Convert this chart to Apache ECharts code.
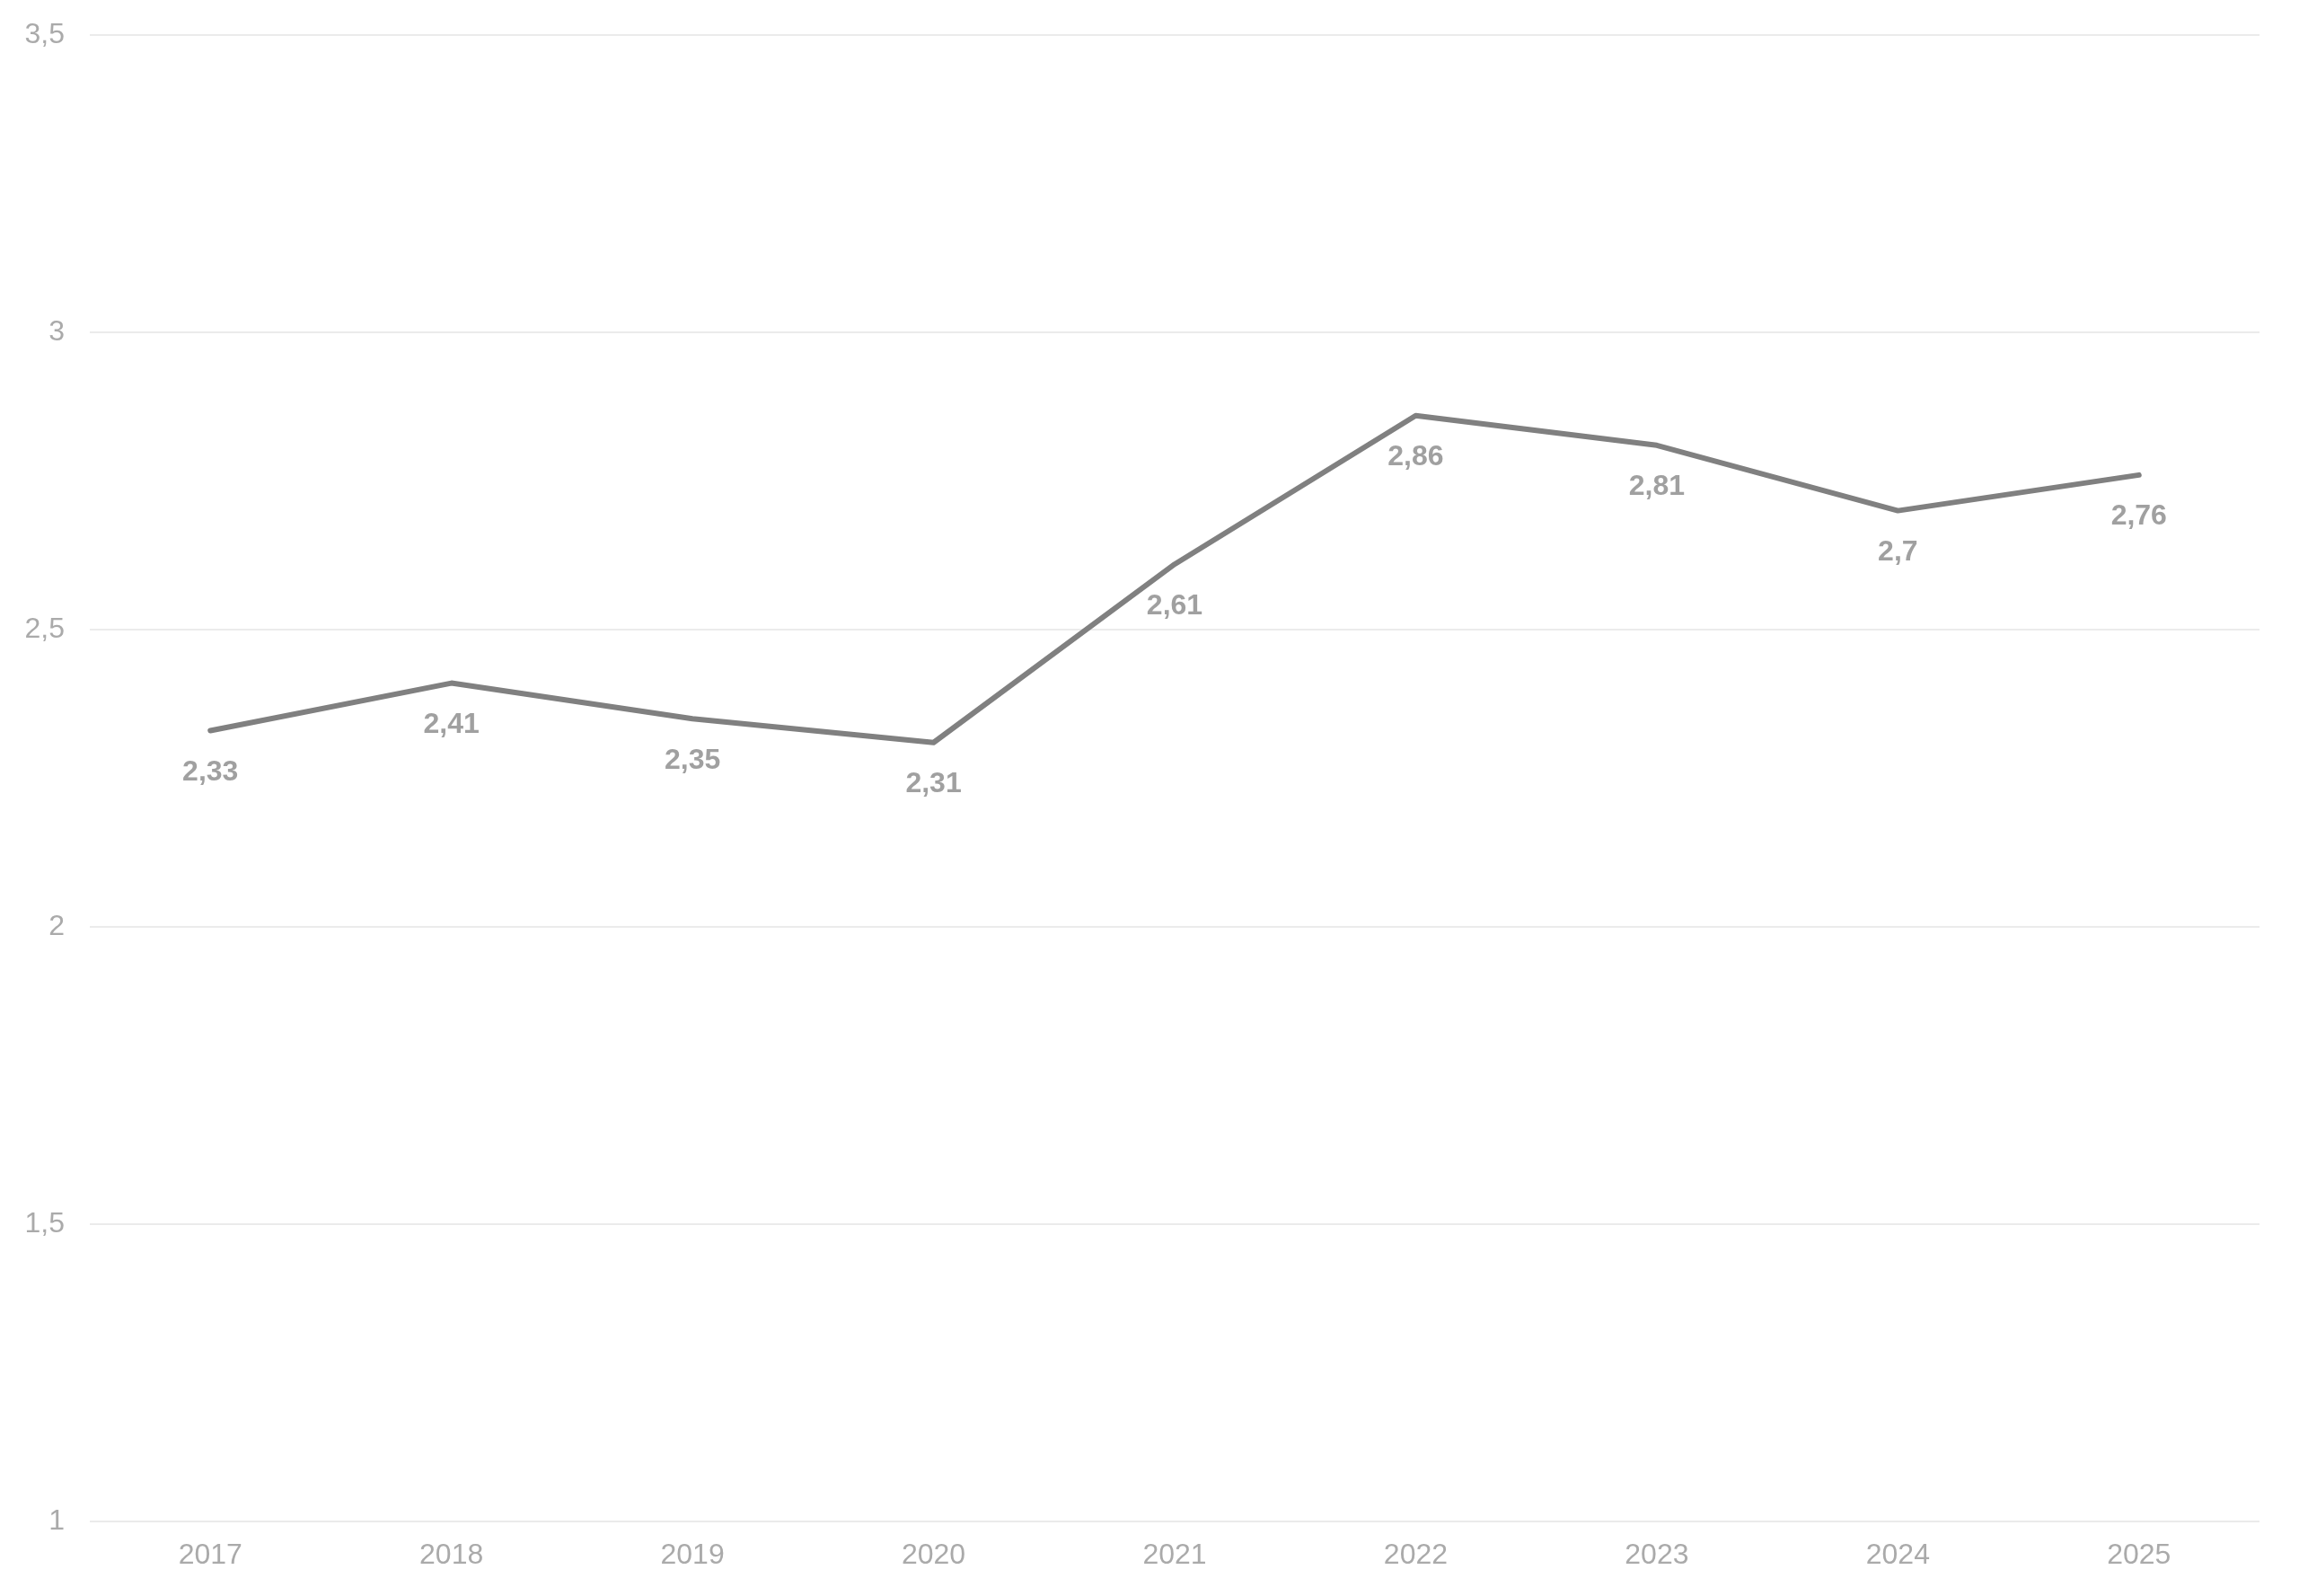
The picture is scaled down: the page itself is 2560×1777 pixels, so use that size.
<!DOCTYPE html>
<html>
<head>
<meta charset="utf-8">
<style>
html,body{margin:0;padding:0;background:#fff;}
#chart{width:2560px;height:1777px;}
</style>
<script src="https://cdn.jsdelivr.net/npm/echarts@6/dist/echarts.min.js"></script>
</head>
<body>
<div id="chart"></div>
<script>
const categories = ['2017','2018','2019','2020','2021','2022','2023','2024','2025'];
const values = [2.33, 2.41, 2.35, 2.31, 2.61, 2.86, 2.81, 2.7, 2.76];
const yMin = 1, yMax = 3.5, yStep = 0.5;

const fmt = v => String(v).replace('.', ',');
const chart = echarts.init(document.getElementById('chart'));
chart.setOption({
  animation: false,
  backgroundColor: '#ffffff',
  textStyle: { fontFamily: 'Liberation Sans, Arial, sans-serif' },
  grid: { left: 100, right: 44, top: 39, bottom: 83, containLabel: false },
  xAxis: {
    type: 'category',
    data: categories,
    boundaryGap: true,
    axisLine: { show: false },
    axisTick: { show: false },
    axisLabel: { color: '#aaaaaa', fontSize: 32, margin: 22, fontFamily: 'Liberation Sans, Arial, sans-serif' }
  },
  yAxis: {
    type: 'value',
    min: yMin, max: yMax, interval: yStep,
    axisLine: { show: false },
    axisTick: { show: false },
    splitLine: { lineStyle: { color: '#ebebeb', width: 2 } },
    axisLabel: { color: '#aaaaaa', fontSize: 32, margin: 28, formatter: fmt, fontFamily: 'Liberation Sans, Arial, sans-serif' }
  },
  series: [{
    type: 'line',
    data: values,
    showSymbol: true,
    symbol: 'circle',
    symbolSize: 1,
    itemStyle: { color: '#808080' },
    lineStyle: { color: '#808080', width: 6, cap: 'round', join: 'round' },
    label: {
      show: true,
      position: 'bottom',
      distance: 30,
      color: '#a0a0a0',
      fontSize: 32,
      fontWeight: 'bold',
      fontFamily: 'Liberation Sans, Arial, sans-serif',
      formatter: p => fmt(p.value)
    }
  }]
});
</script>
</body>
</html>
